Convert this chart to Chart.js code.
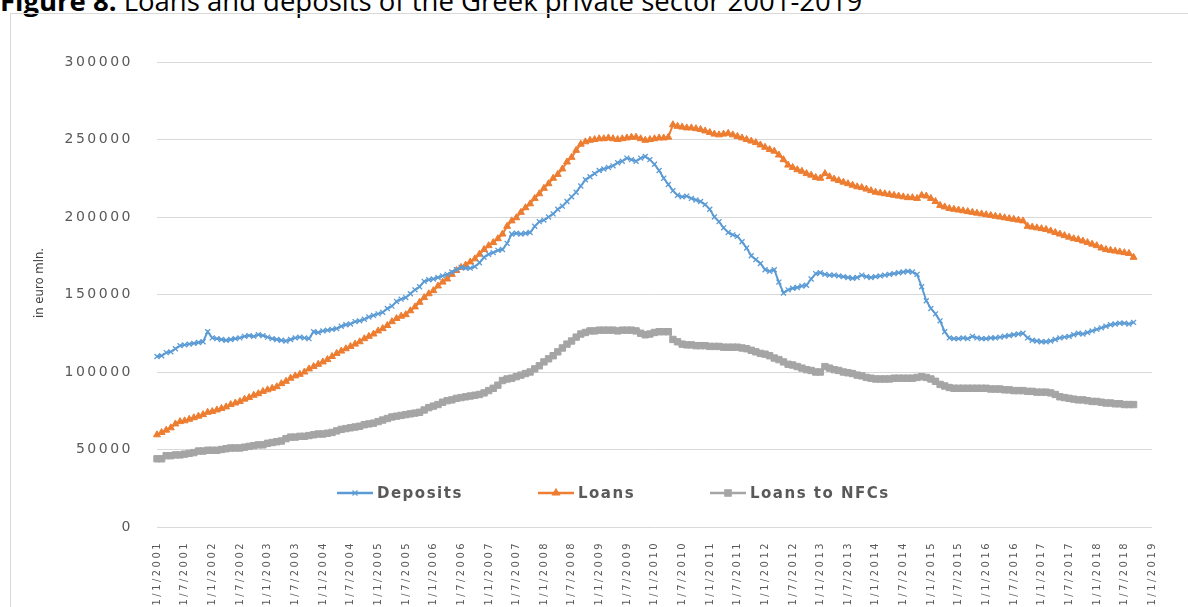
<!DOCTYPE html>
<html lang="en">
<head>
  <meta charset="UTF-8">
  <title>Loans and deposits of the Greek private sector</title>
  <script src="https://cdn.jsdelivr.net/npm/chart.js"></script>
  <style>
    body {
      margin: 0;
      background: #fff;
      width: 1188px;
      height: 607px;
      overflow: hidden;
      position: relative;
      font-family: "Open Sans", "Liberation Sans", sans-serif;
    }
    .title {
      position: absolute;
      left: 0;
      top: -13px;
      font-size: 27.5px;
      line-height: 27px;
      color: #000;
      white-space: nowrap;
    }
    .frame {
      position: absolute;
      left: 10px;
      top: 13px;
      width: 1300px;
      height: 700px;
      border: 1px solid #d9d9d9;
    }
    canvas {
      position: absolute;
      left: 0;
      top: 0;
    }
  </style>
</head>
<body>
  <div class="title"><b>Figure 8.</b> Loans and deposits of the Greek private sector 2001-2019</div>
  <div class="frame"></div>
  <canvas id="myChart" width="1188" height="607"></canvas>

  <script>
    // month labels 1/1/2001 ... 1/1/2019
    const years = [2001, 2002, 2003, 2004, 2005, 2006, 2007, 2008, 2009,
      2010, 2011, 2012, 2013, 2014, 2015, 2016, 2017, 2018];
    const months = [1, 2, 3, 4, 5, 6, 7, 8, 9, 10, 11, 12];
    const labels = [];
    years.forEach(y => months.forEach(m => labels.push("1/" + m + "/" + y)));
    labels.push("1/1/2019");

    // in euro mln, monthly, Jan 2001 - Sep 2018
    const deposits = [
      110000, 110500, 112500, 113000, 115000, 117000, 117500, 118000, 118500, 119000, 119500, 126000,
      122000, 121500, 121000, 120500, 121000, 121500, 122000, 123000, 123500, 123000, 124000, 123500,
      122500, 121500, 121000, 120500, 120000, 121000, 122000, 122500, 122000, 121500, 126000, 125500,
      126500, 127000, 127500, 128000, 129500, 130500, 131000, 132500, 133000, 134000, 135500, 136500,
      137500, 138500, 141000, 142500, 145500, 147000, 148000, 150500, 153000, 155000, 158500, 159500,
      160000, 161000, 162000, 163000, 164500, 166000, 167500, 167000, 167000, 168000, 170500, 174000,
      176000, 177000, 178500, 179000, 183000, 189000, 189500, 189000, 189500, 190000, 194000, 197000,
      198000, 200000, 202000, 205000, 207000, 210000, 213000, 216000, 220000, 224000, 226000, 228000,
      230000, 231000, 232000, 233000, 235000, 236000, 238000, 237000, 236000, 238000, 239000, 237000,
      234000, 230000, 225000, 221000, 217000, 214000, 213000, 213500, 212000, 211000, 210000, 208000,
      205000, 200000, 197000, 193000, 190000, 188500, 187500, 184000, 180000, 175000, 172500, 170000,
      166000, 165000, 166000, 158000, 151000, 153000, 154000, 154500, 155500, 156000, 160000, 163500,
      164000, 163000, 162500, 162500, 162000, 161500, 161000, 160500, 161000, 162500, 161500, 161000,
      161500, 162000, 162500, 163000, 163500, 164000, 164500, 165000, 164500, 163000, 155000, 146000,
      141000, 137500, 133000, 126000, 122000, 121500, 121500, 122000, 121500, 123000, 122000, 121500,
      121500, 122000, 122000, 122500, 123000, 123500, 124000, 124500, 125000, 122000, 120500, 120000,
      119500, 119500, 120000, 121000, 122000, 122500, 123000, 124000, 125000, 124500, 125500, 126500,
      127500, 128500, 129500, 130500, 131000, 131500, 131500, 131000, 132000
    ];

    const loans = [
      59500, 61000, 62500, 64000, 66500, 68000, 68500, 69500, 70500, 71500, 72500, 74000,
      74500, 75500, 76500, 77500, 79000, 80000, 81000, 82500, 83500, 85000, 86000, 87500,
      88500, 89500, 90500, 92500, 94000, 96000, 97500, 98500, 100000, 102000, 103500, 105000,
      106500, 108000, 110000, 112000, 113500, 115000, 116500, 118000, 119500, 121500, 123000, 124500,
      126500, 128000, 130000, 132500, 134500, 136000, 137000, 139500, 142000, 145000, 148000, 150500,
      152500, 155500, 158000, 160000, 163000, 165500, 167500, 169000, 171000, 173000, 176000, 179000,
      181500, 183500, 186000, 189000, 194000, 197500, 199500, 203000, 206000, 208500, 212000, 215000,
      218500, 221500, 225000, 227500, 231000, 235500, 238500, 243000, 247000, 248500, 249500, 250000,
      250500, 250500, 251000, 250500, 250000, 250500, 251000, 251500, 251500, 250500, 249500, 250000,
      250500, 251000, 251000, 251500, 259500, 258500, 258000, 257500, 257500, 257000, 256500, 255500,
      254500, 253500, 253000, 253500, 254000, 253000, 252000, 251000, 250000, 249000, 248000, 246500,
      245000, 243500, 242500, 240000, 237000, 233500, 232000, 230500, 229500, 228000, 227000, 225500,
      225000, 228000, 226000, 224500, 223500, 222500, 221500, 220500, 219500, 219000, 218000, 217000,
      216000, 215500, 215000, 214500, 214000, 213500, 213000, 212500, 212500, 212000, 214000, 213500,
      212000, 210000, 207500, 206500, 205500, 205000, 204500, 204000, 203500, 203000, 202500, 202000,
      201500, 201000, 200500, 200000, 199500, 199000, 198500, 198000, 197500, 194000, 193500, 193000,
      192500, 192000, 191000, 190000, 189000, 188000, 187000, 186000, 185500, 184500, 183500, 182500,
      181500, 180000, 179000, 178500, 178000, 177500, 177000, 176500, 174000
    ];

    const loansNFC = [
      44000, 44000, 46000, 46000, 46500, 46500, 47000, 47500, 48000, 49000, 49000, 49500,
      49500, 49500, 50000, 50500, 51000, 51000, 51000, 51500, 52000, 52500, 53000, 53000,
      54000, 54500, 55000, 55500, 57000, 58000, 58000, 58500, 58500, 59000, 59500, 60000,
      60000, 60500, 61000, 62000, 63000, 63500, 64000, 64500, 65000, 66000, 66500, 67000,
      68000, 69000, 70000, 71000, 71500, 72000, 72500, 73000, 73500, 74000, 75500, 77000,
      78000, 79000, 80500, 81500, 82000, 83000, 83500, 84000, 84500, 85000, 85500, 86500,
      88000, 89500, 91500, 94500, 95500, 96000, 97000, 98000, 99000, 100000, 102000, 104000,
      106500, 108500, 110500, 113000, 115500, 118000, 120000, 122500, 124500, 125500, 126500, 126500,
      127000, 127000, 127000, 127000, 126500, 127000, 127000, 127000, 126500, 125000, 124000, 124500,
      125500, 126000, 126000, 126000, 121000, 119500, 118000, 117500, 117500, 117000, 117000, 117000,
      116500, 116500, 116500, 116000, 116000, 116000, 116000, 115500, 115000, 114000, 113000, 112000,
      111500, 110500, 109000, 108000, 106500, 105000, 104500, 103500, 102500, 101500, 101000, 100000,
      100000, 103500, 102500, 101500, 101000, 100000, 99500, 99000, 98000, 97500, 96500, 96000,
      95500, 95500, 95500, 95500, 96000, 96000, 96000, 96000, 96000, 96500, 97000, 96500,
      95500, 94000, 92000, 91000, 90000, 89500, 89500, 89500, 89500, 89500, 89500, 89500,
      89500, 89000, 89000, 89000, 88500, 88500, 88000, 88000, 88000, 87500, 87500, 87000,
      87000, 87000, 86500, 85500, 84000, 83500, 83000, 82500, 82000, 82000, 81500, 81000,
      81000, 80500, 80000, 80000, 79500, 79500, 79000, 79000, 79000
    ];

    const seriesNames = ["Deposits", "Loans", "Loans to NFCs"];
    const colors = ["#5B9BD5", "#ED7D31", "#A5A5A5"];
    const markers = ["crossRot", "triangle", "rect"];

    // spread-out lettering like the original
    const spacing = {
      id: "spacing",
      beforeLayout(chart) { chart.ctx.letterSpacing = "2.5px"; },
      beforeDraw(chart) { chart.ctx.letterSpacing = "2.5px"; }
    };

    // legend inside the plot near the bottom, plus the rotated y-axis caption
    const innerLegend = {
      id: "innerLegend",
      afterDraw(chart) {
        const ctx = chart.ctx;
        const y = chart.chartArea.bottom - 34;
        const starts = [337, 538, 710];
        ctx.save();
        ctx.letterSpacing = "1.5px";
        chart.data.datasets.forEach((ds, i) => {
          const x0 = starts[i];
          ctx.strokeStyle = ds.borderColor;
          ctx.lineWidth = 2.5;
          ctx.beginPath();
          ctx.moveTo(x0, y);
          ctx.lineTo(x0 + 36, y);
          ctx.stroke();
          ctx.fillStyle = ds.backgroundColor;
          ctx.lineWidth = 1.2;
          Chart.helpers.drawPoint(ctx, {
            pointStyle: ds.pointStyle, radius: ds.pointRadius, rotation: 0, borderWidth: 1.2
          }, x0 + 18, y);
          ctx.fillStyle = "#595959";
          ctx.font = "bold 15px 'DejaVu Sans'";
          ctx.textBaseline = "middle";
          ctx.textAlign = "left";
          ctx.fillText(ds.label, x0 + 40, y + 1);
        });

        ctx.letterSpacing = "0px";
        ctx.translate(40, 283);
        ctx.rotate(-Math.PI / 2);
        ctx.fillStyle = "#404040";
        ctx.font = "13px 'Liberation Sans Narrow', 'DejaVu Sans Condensed'";
        ctx.textAlign = "center";
        ctx.textBaseline = "middle";
        ctx.fillText("in euro mln.", 0, 0);
        ctx.restore();
      }
    };

    const datasets = [deposits, loans, loansNFC].map((values, i) => ({
      label: seriesNames[i],
      data: values,
      borderColor: colors[i],
      backgroundColor: colors[i],
      pointBackgroundColor: colors[i],
      pointBorderColor: colors[i],
      borderWidth: 2,
      pointStyle: markers[i],
      pointRadius: [3.5, 4, 4.5][i],
      pointBorderWidth: [1.3, 1, 1][i],
      tension: 0
    }));

    const ctx = document.getElementById("myChart").getContext("2d");

    new Chart(ctx, {
      type: "line",
      data: { labels: labels, datasets: datasets },
      options: {
        responsive: false,
        animation: false,
        layout: { padding: { top: 62, right: 36, bottom: 0, left: 0 } },
        plugins: {
          legend: { display: false },
          tooltip: { enabled: false }
        },
        scales: {
          x: {
            offset: false,
            grid: { display: false },
            border: { display: false },
            ticks: {
              autoSkip: false,
              maxRotation: 90,
              minRotation: 90,
              padding: 6,
              color: "#595959",
              font: { family: "'DejaVu Sans Condensed'", size: 11 },
              callback: (v, i) => (i % 6 === 0 ? labels[i] : "")
            },
            afterFit: (s) => { s.height = 80; }
          },
          y: {
            min: 0,
            max: 300000,
            grid: { color: "#d9d9d9", drawTicks: false },
            border: { display: false },
            ticks: {
              stepSize: 50000,
              padding: 24,
              color: "#595959",
              font: { family: "'DejaVu Sans'", size: 14 },
              callback: (v) => String(v)
            },
            afterFit: (s) => { s.width = 157; }
          }
        }
      },
      plugins: [spacing, innerLegend]
    });
  </script>
</body>
</html>
